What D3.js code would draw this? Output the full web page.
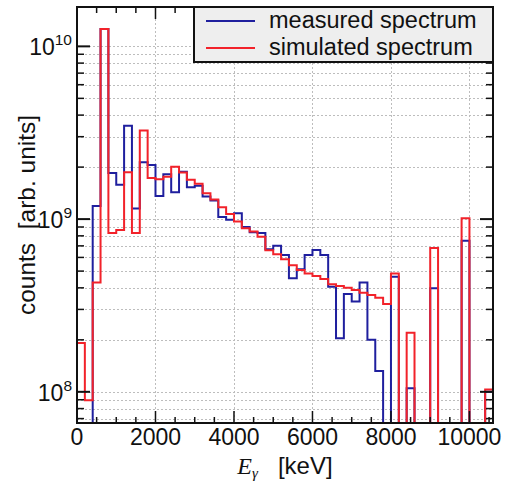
<!DOCTYPE html>
<html>
<head>
<meta charset="utf-8">
<script src="https://cdn.jsdelivr.net/npm/d3@7"></script>
<style>
  body { margin: 0; background: #fff; }
  text { font-family: "Liberation Sans", Arial, sans-serif; fill: #111; }
</style>
</head>
<body>
<svg id="chart" width="509" height="482"></svg>
<script>
// Histogram binning (keV)
const binWidth = 200;
const binStarts = d3.range(0, 10600, binWidth);

// counts per bin [arb. units] (0 = empty bin)
const measured = [
  0, 0, 1.19e9, 1.26e10, 1.85e9, 1.58e9, 3.47e9, 1.15e9, 2.13e9, 2.06e9,
  1.36e9, 1.82e9, 1.43e9, 1.88e9, 1.53e9, 1.56e9, 1.35e9, 1.28e9, 1.03e9, 9.9e8,
  1.08e9, 9.0e8, 8.4e8, 8.3e8, 6.7e8, 7.0e8, 6.2e8, 4.54e8, 5.12e8, 6.19e8,
  6.62e8, 6.19e8, 4.06e8, 2.04e8, 3.68e8, 3.33e8, 4.29e8, 2.0e8, 1.32e8, 0,
  4.64e8, 0, 1.05e8, 0, 0, 3.98e8, 0, 0, 0, 7.5e8,
  0, 0, 1.0e8
];
const simulated = [
  1.92e8, 8.95e7, 4.3e8, 1.26e10, 8.3e8, 8.65e8, 1.87e9, 8.3e8, 3.26e9, 1.73e9,
  1.70e9, 1.76e9, 2.01e9, 1.86e9, 1.69e9, 1.60e9, 1.41e9, 1.30e9, 1.17e9, 1.07e9,
  9.7e8, 8.86e8, 8.47e8, 7.9e8, 6.6e8, 6.25e8, 5.85e8, 5.4e8, 5.07e8, 4.85e8,
  4.69e8, 4.5e8, 4.2e8, 4.1e8, 4.01e8, 3.89e8, 3.75e8, 3.64e8, 3.51e8, 3.22e8,
  4.85e8, 0, 2.2e8, 0, 0, 6.8e8, 0, 0, 0, 1.01e9,
  0, 0, 1.03e8
];

const xTicks = [0, 2000, 4000, 6000, 8000, 10000];
const yTicks = [1e8, 1e9, 1e10];
const legendLabels = ["measured spectrum", "simulated spectrum"];
const colors = ["#1f1f9e", "#f2222a"];

const plot = { left: 77, right: 493, top: 7, bottom: 423 };
const svg = d3.select("#chart");

const x = d3.scaleLinear().domain([0, 10600]).range([plot.left, plot.right]);
const y = d3.scaleLog().domain([6.6e7, 1.69e10]).range([plot.bottom, plot.top]).clamp(true);

// grid
const yMinor = [];
for (let e = 7; e <= 10; e++) {
  for (let m = 1; m <= 9; m++) {
    const v = m * Math.pow(10, e);
    if (v >= y.domain()[0] && v <= y.domain()[1]) yMinor.push(v);
  }
}
const grid = svg.append("g")
  .attr("stroke", "#bdbdbd")
  .attr("stroke-width", 1)
  .attr("stroke-dasharray", "2,2");
grid.selectAll("line.gy").data(yMinor).join("line")
  .attr("x1", plot.left).attr("x2", plot.right)
  .attr("y1", d => Math.round(y(d)) + 0.5).attr("y2", d => Math.round(y(d)) + 0.5);
grid.selectAll("line.gx").data(xTicks.filter(d => d > 0)).join("line")
  .attr("y1", plot.top).attr("y2", plot.bottom)
  .attr("x1", d => Math.round(x(d)) + 0.5).attr("x2", d => Math.round(x(d)) + 0.5);

// histogram outline as steps
function stepPath(values) {
  const yb = y.range()[0];
  let p = `M${x(0)},${yb}`;
  values.forEach((v, i) => {
    const yy = v > 0 ? y(v) : yb;
    p += `L${x(binStarts[i])},${yy}L${x(binStarts[i] + binWidth)},${yy}`;
  });
  p += `L${x(binStarts[values.length - 1] + binWidth)},${yb}`;
  return p;
}

svg.append("g").selectAll("path")
  .data([measured, simulated])
  .join("path")
  .attr("d", d => stepPath(d))
  .attr("fill", "none")
  .attr("stroke", (d, i) => colors[i])
  .attr("stroke-width", 2)
  .attr("stroke-linejoin", "miter");

// ticks (inward, all four sides)
const ticks = svg.append("g").attr("stroke", "#111").attr("stroke-width", 1.5);
const xMinor = d3.range(0, 10600, 500);
xMinor.forEach(v => {
  const len = v % 2000 === 0 ? 12 : 6;
  const xx = x(v);
  ticks.append("line").attr("x1", xx).attr("x2", xx).attr("y1", plot.bottom).attr("y2", plot.bottom - len);
  ticks.append("line").attr("x1", xx).attr("x2", xx).attr("y1", plot.top).attr("y2", plot.top + len);
});
yMinor.forEach(v => {
  const major = yTicks.includes(v);
  const len = major ? 13 : 7;
  const yy = y(v);
  ticks.append("line").attr("x1", plot.left).attr("x2", plot.left + len).attr("y1", yy).attr("y2", yy).attr("stroke-width", major ? 2 : 1.5);
  ticks.append("line").attr("x1", plot.right).attr("x2", plot.right - len).attr("y1", yy).attr("y2", yy).attr("stroke-width", major ? 2 : 1.5);
});

// frame
svg.append("rect")
  .attr("x", plot.left).attr("y", plot.top)
  .attr("width", plot.right - plot.left).attr("height", plot.bottom - plot.top)
  .attr("fill", "none").attr("stroke", "#111").attr("stroke-width", 2);

// tick labels
svg.append("g").selectAll("text").data(xTicks).join("text")
  .attr("x", d => x(d)).attr("y", 445)
  .attr("text-anchor", "middle")
  .attr("font-size", 23)
  .text(d => d);

const yLab = svg.append("g").selectAll("text").data(yTicks).join("text")
  .attr("x", 72).attr("y", d => y(d) + 9)
  .attr("text-anchor", "end")
  .attr("font-size", 23);
yLab.append("tspan").text("10");
yLab.append("tspan").attr("dy", -10).attr("font-size", 15.5).text(d => Math.round(Math.log10(d)));

// axis titles
svg.append("text")
  .attr("transform", `translate(35,${(plot.top + plot.bottom) / 2}) rotate(-90)`)
  .attr("text-anchor", "middle")
  .attr("font-size", 24.5)
  .text("counts\u00a0\u00a0[arb. units]");

const xt = svg.append("text")
  .attr("x", (plot.left + plot.right) / 2).attr("y", 474)
  .attr("text-anchor", "middle")
  .attr("font-size", 24);
xt.append("tspan").attr("font-family", "'Liberation Serif', serif").attr("font-style", "italic").text("E");
xt.append("tspan").attr("font-family", "'Liberation Serif', serif").attr("font-style", "italic").attr("font-size", 15).attr("dy", 4).text("γ");
xt.append("tspan").attr("dy", -4).text("\u00a0\u00a0\u00a0[keV]");

// legend
const lg = svg.append("g");
lg.append("rect")
  .attr("x", 194).attr("y", plot.top)
  .attr("width", plot.right - 194).attr("height", 55)
  .attr("fill", "#eeeeee").attr("stroke", "#111").attr("stroke-width", 2);
legendLabels.forEach((lab, i) => {
  const yy = 21 + i * 27;
  lg.append("line").attr("x1", 206).attr("x2", 255).attr("y1", yy).attr("y2", yy)
    .attr("stroke", colors[i]).attr("stroke-width", 2);
  lg.append("text").attr("x", 269).attr("y", yy + 7)
    .attr("font-size", 23.5)
    .text(lab);
});
</script>
</body>
</html>
